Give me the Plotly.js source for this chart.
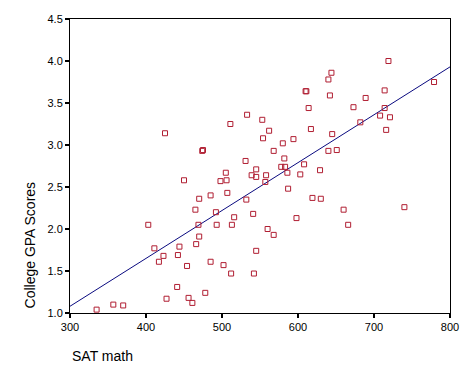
<!DOCTYPE html>
<html>
<head>
<meta charset="utf-8">
<script src="https://cdn.plot.ly/plotly-3.0.1.min.js"></script>
<style>html,body{margin:0;padding:0;background:#fff}#chart{width:470px;height:376px}</style>
</head>
<body>
<div id="chart"></div>
<script>
// SAT math scores (x) and College GPA scores (y)
const satMath = [
  335, 357, 370, 403, 411, 417, 423, 427, 441, 444,
  442, 454, 450, 456, 461, 465, 470, 469, 470, 466,
  478, 485, 485, 493, 492, 498, 505, 506, 502, 507,
  512, 513, 516, 531, 532, 539, 545, 545, 541, 545,
  542, 558, 578, 583, 586, 603, 608, 629, 557, 587,
  619, 630, 598, 560, 568, 660, 666, 740, 474, 475,
  511, 533, 553, 562, 554, 580, 594, 568, 582, 425,
  610, 611, 614, 617, 640, 642, 644, 640, 651, 645,
  719, 714, 689, 779, 673, 714, 708, 721, 682, 716
];
const gpaScores = [
  1.04, 1.10, 1.09, 2.05, 1.77, 1.61, 1.68, 1.17, 1.31, 1.79,
  1.69, 1.56, 2.58, 1.18, 1.12, 2.23, 2.36, 2.05, 1.91, 1.82,
  1.24, 2.40, 1.61, 2.05, 2.20, 2.57, 2.67, 2.58, 1.57, 2.43,
  1.47, 2.05, 2.14, 2.81, 2.35, 2.64, 2.71, 2.62, 2.18, 1.74,
  1.47, 2.64, 2.74, 2.74, 2.67, 2.65, 2.77, 2.70, 2.56, 2.48,
  2.37, 2.36, 2.13, 2.00, 1.93, 2.23, 2.05, 2.26, 2.93, 2.94,
  3.25, 3.36, 3.30, 3.17, 3.08, 3.02, 3.07, 2.93, 2.84, 3.14,
  3.64, 3.64, 3.44, 3.19, 3.78, 3.59, 3.86, 2.93, 2.94, 3.13,
  4.00, 3.65, 3.56, 3.75, 3.45, 3.44, 3.35, 3.33, 3.27, 3.18
];
// Fitted regression line (GPA = intercept + slope * SAT)
const fitIntercept = -0.63;
const fitSlope = 0.0057;
const xRange = [300, 800];
const yRange = [1.0, 4.5];
const xTickVals = [300, 400, 500, 600, 700, 800];
const yTickVals = [1.0, 1.5, 2.0, 2.5, 3.0, 3.5, 4.0, 4.5];

const fitX = xRange.slice();
const fitY = fitX.map(v => fitIntercept + fitSlope * v);

const traces = [
  {
    x: fitX, y: fitY, type: 'scatter', mode: 'lines',
    line: {color: '#0a0a80', width: 1}, hoverinfo: 'skip', showlegend: false
  },
  {
    x: satMath, y: gpaScores, type: 'scatter', mode: 'markers',
    marker: {symbol: 'square-open', size: 5, color: '#b01e32', line: {width: 1, color: '#b01e32'}},
    showlegend: false, cliponaxis: false
  }
];

const font = {family: 'Liberation Sans, Arial, sans-serif', color: '#000'};
const layout = {
  width: 470, height: 376,
  margin: {l: 70, r: 20, t: 19, b: 62.5, pad: 0},
  paper_bgcolor: '#fff', plot_bgcolor: '#fff',
  font: Object.assign({size: 11}, font),
  showlegend: false,
  xaxis: {
    range: xRange, tickvals: xTickVals, ticktext: xTickVals.map(String),
    showgrid: false, zeroline: false, showline: true, mirror: true,
    linecolor: '#000', linewidth: 1,
    ticks: 'outside', ticklen: 4, tickwidth: 2, tickcolor: '#000',
    tickfont: Object.assign({size: 11}, font)
  },
  yaxis: {
    range: yRange, tickvals: yTickVals, ticktext: yTickVals.map(v => v.toFixed(1)),
    showgrid: false, zeroline: false, showline: true, mirror: true,
    linecolor: '#000', linewidth: 1,
    ticks: 'outside', ticklen: 4, tickwidth: 2, tickcolor: '#000',
    tickfont: Object.assign({size: 11}, font)
  },
  annotations: [
    {
      text: 'SAT math', xref: 'paper', yref: 'paper', x: 0, y: -0.145,
      xanchor: 'left', yanchor: 'middle', showarrow: false,
      font: Object.assign({size: 14}, font)
    },
    {
      text: 'College GPA Scores', xref: 'paper', yref: 'paper', x: -0.105, y: 0.23,
      xanchor: 'center', yanchor: 'middle', textangle: -90, showarrow: false,
      font: Object.assign({size: 14}, font)
    }
  ]
};

Plotly.newPlot('chart', traces, layout, {displayModeBar: false, staticPlot: true});
</script>
</body>
</html>
